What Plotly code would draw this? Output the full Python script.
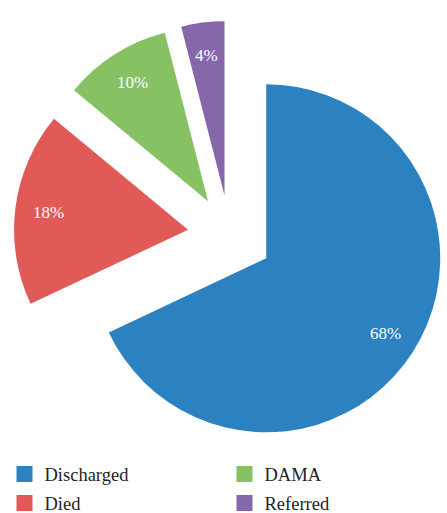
import math
import plotly.graph_objects as go

# ---- data ----
labels = ["Discharged", "Died", "DAMA", "Referred"]
values = [68, 18, 10, 4]
colors = ["#2C82C1", "#E05A57", "#86C263", "#8667AA"]
pulls = [0.25, 0.24, 0.23, 0.23]
legend_row1 = ["Discharged", "DAMA"]
legend_row2 = ["Died", "Referred"]

SERIF = "Liberation Serif, Times New Roman, serif"
W, H = 447, 513
dom_x = [0.0268, 1.0]
dom_y = [0.1119, 0.9719]

fig = go.Figure()
fig.add_trace(go.Pie(
    labels=labels, values=values, sort=False, direction="clockwise", rotation=0,
    marker=dict(colors=colors, line=dict(width=0)), pull=pulls,
    textinfo="none",
    domain=dict(x=dom_x, y=dom_y),
    showlegend=False, hoverinfo="skip",
))

# percentage labels placed along each slice's mid-angle (same geometry plotly uses)
max_pull = max(pulls)
cx = W * (dom_x[0] + dom_x[1]) / 2
cy = H * (1 - (dom_y[0] + dom_y[1]) / 2)
r = min(W * (dom_x[1] - dom_x[0]) / 2, H * (dom_y[1] - dom_y[0]) / 2) / (1 + max_pull)
total = sum(values)
cum = 0
for v, p in zip(values, pulls):
    mid = (cum + v / 2) / total * 2 * math.pi
    cum += v
    dx, dy = math.sin(mid), -math.cos(mid)
    px = cx + (p + 0.81) * r * dx
    py = cy + (p + 0.81) * r * dy
    fig.add_annotation(
        x=px / W, y=1 - py / H, xref="paper", yref="paper",
        text=f"{round(100 * v / total)}%", showarrow=False,
        xanchor="center", yanchor="middle",
        font=dict(family=SERIF, size=17, color="white"),
    )

for row, lg in ((legend_row1, "legend"), (legend_row2, "legend2")):
    for lab in row:
        i = labels.index(lab)
        fig.add_trace(go.Scatter(
            x=[None], y=[None], mode="markers", name=lab, legend=lg,
            marker=dict(symbol="square", size=16, color=colors[i]),
            hoverinfo="skip",
        ))

leg_common = dict(orientation="h", xanchor="left", yanchor="top", x=4.5 / W,
                  entrywidth=175, font=dict(family=SERIF, size=18.5, color="#231F20"),
                  bgcolor="rgba(0,0,0,0)", borderwidth=0)

fig.update_layout(
    width=W, height=H, margin=dict(l=0, r=0, t=0, b=0, autoexpand=False),
    paper_bgcolor="white", plot_bgcolor="white",
    xaxis=dict(visible=False), yaxis=dict(visible=False),
    legend=dict(y=1 - 455.5 / H, **leg_common),
    legend2=dict(y=1 - 484.5 / H, **leg_common),
)

fig.write_html("out.html")
